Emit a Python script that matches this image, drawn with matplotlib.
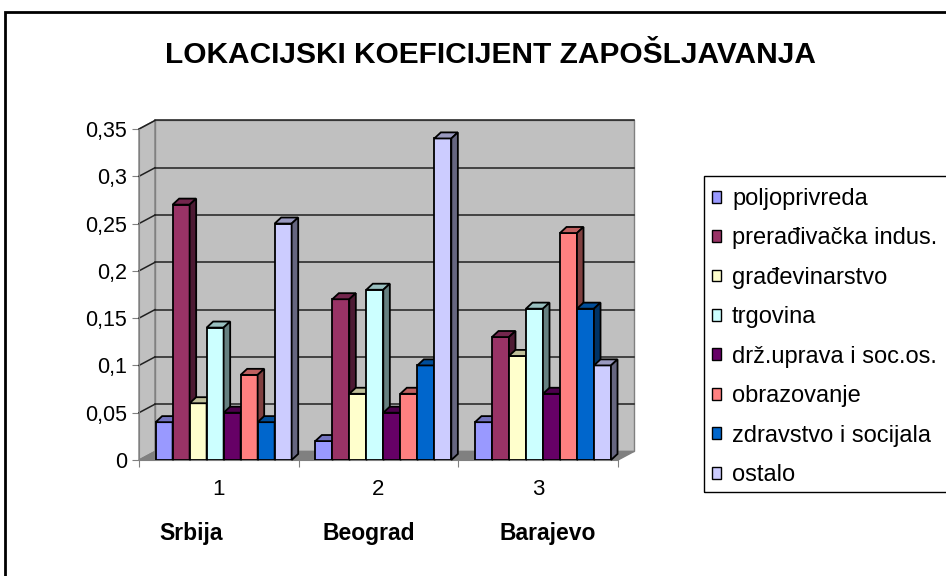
import matplotlib.pyplot as plt
from matplotlib.patches import Rectangle, Patch
import numpy as np

plt.rcParams['font.family'] = ['Liberation Sans', 'DejaVu Sans']

# podaci
categories = ['1', '2', '3']
regions = ['Srbija', 'Beograd', 'Barajevo']
sectors = ['poljoprivreda', 'prerađivačka indus.', 'građevinarstvo', 'trgovina',
           'drž.uprava i soc.os.', 'obrazovanje', 'zdravstvo i socijala', 'ostalo']
srbija = [0.04, 0.27, 0.06, 0.14, 0.05, 0.09, 0.04, 0.25]
beograd = [0.02, 0.17, 0.07, 0.18, 0.05, 0.07, 0.10, 0.34]
barajevo = [0.04, 0.13, 0.11, 0.16, 0.07, 0.24, 0.16, 0.10]
y_ticks = [0, 0.05, 0.1, 0.15, 0.2, 0.25, 0.3, 0.35]
y_labels = ['0', '0,05', '0,1', '0,15', '0,2', '0,25', '0,3', '0,35']
colors = ['#9999FF', '#993366', '#FFFFCC', '#CCFFFF', '#660066', '#FF8080', '#0066CC', '#CCCCFF']

values = np.array([srbija, beograd, barajevo])  # region x sector

# 3D izgled
DX, DY = 0.1, 0.009        # dubina zidova
BDX, BDY = 0.041, 0.0064   # dubina stubaca
BAR_W = 0.1065
GROUP_OFF = 0.03


def shade(c, f):
    r, g, b = plt.matplotlib.colors.to_rgb(c)
    return (r * f, g * f, b * f)


fig = plt.figure(figsize=(9.46, 5.76), dpi=100)
ax = fig.add_axes([139 / 946, 116 / 576, 479 / 946, 331 / 576])
ax.set_xlim(0.5, 3.5)
ax.set_ylim(0, 0.35)
ax.patch.set_visible(False)

# zidovi i pod
ax.fill([0.5 + DX, 3.5 + DX, 3.5 + DX, 0.5 + DX], [DY, DY, 0.35 + DY, 0.35 + DY],
        facecolor='#C0C0C0', edgecolor='#808080', lw=1, zorder=1, clip_on=False)
ax.fill([0.5, 0.5 + DX, 0.5 + DX, 0.5], [0, DY, 0.35 + DY, 0.35],
        facecolor='#C0C0C0', edgecolor='#808080', lw=1, zorder=1, clip_on=False)
ax.fill([0.5, 3.5, 3.5 + DX, 0.5 + DX], [0, 0, DY, DY],
        facecolor='#808080', edgecolor='#808080', lw=1, zorder=2, clip_on=False)
for v in y_ticks[1:]:
    ax.plot([0.5 + DX, 3.5 + DX], [v + DY, v + DY], color='#202020', lw=1.1, zorder=2, clip_on=False)
    ax.plot([0.5, 0.5 + DX], [v, v + DY], color='#202020', lw=1.1, zorder=2, clip_on=False)

# stupci
xs = np.arange(1, len(categories) + 1)
for k, (name, col) in enumerate(zip(sectors, colors)):
    xk = xs + GROUP_OFF + (k - 3.5) * BAR_W
    vals = values[:, k]
    ax.bar(xk, vals, BAR_W, color=col, edgecolor='black', lw=1.3, zorder=10 + k)
    for x0, v in zip(xk - BAR_W / 2, vals):
        x1 = x0 + BAR_W
        ax.fill([x0, x1, x1 + BDX, x0 + BDX], [v, v, v + BDY, v + BDY],
                facecolor=shade(col, 0.75), edgecolor='black', lw=1.3, zorder=10 + k, clip_on=False)
        ax.fill([x1, x1 + BDX, x1 + BDX, x1], [0, BDY, v + BDY, v],
                facecolor=shade(col, 0.5), edgecolor='black', lw=1.3, zorder=10 + k, clip_on=False)

# osi
for s in ['top', 'right']:
    ax.spines[s].set_visible(False)
for s in ['left', 'bottom']:
    ax.spines[s].set_color('#808080')
    ax.spines[s].set_zorder(3)
ax.set_yticks(y_ticks)
ax.set_yticklabels(y_labels, fontsize=15.5)
ax.tick_params(axis='y', length=5, color='#808080', pad=3.5)
ax.set_xticks([0.5, 1.5, 2.5, 3.5])
ax.set_xticklabels([])
ax.set_xticks(xs, categories, minor=True, fontsize=16)
ax.tick_params(axis='x', which='major', length=5, color='#808080')
ax.tick_params(axis='x', which='minor', length=0, pad=14)

label_x = [0.825, 1.94, 3.06]
for x, name in zip(label_x, regions):
    ax.text(x, -0.223, name, transform=ax.get_xaxis_transform(), ha='center', va='center',
            fontsize=16.5, fontweight='bold')

fig.text(490 / 946, 1 - 55 / 576, 'LOKACIJSKI KOEFICIJENT ZAPOŠLJAVANJA',
         ha='center', va='center', fontsize=21.5, fontweight='bold')

# legenda
handles = [Patch(facecolor=c, edgecolor='black', lw=1) for c in colors]
fig.legend(handles, sectors, loc='upper left', bbox_to_anchor=(712 / 946, 1 - 188 / 576),
           frameon=False, fontsize=17, borderpad=0, borderaxespad=0,
           handlelength=0.4, handleheight=0.4, handletextpad=0.45, labelspacing=0.74)
fig.add_artist(Rectangle((704 / 946, 1 - 492 / 576), 0.5, 316 / 576, transform=fig.transFigure,
                         fill=False, edgecolor='black', lw=1, clip_on=False))

# okvir
fig.add_artist(Rectangle((5 / 946, -0.5), 2, 1.5 - 12 / 576, transform=fig.transFigure,
                         fill=False, edgecolor='black', lw=2, clip_on=False))

fig.savefig('out.png', dpi=100)
